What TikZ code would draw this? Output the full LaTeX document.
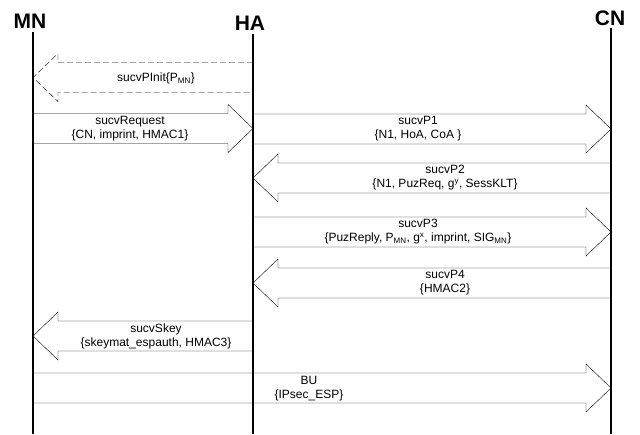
\documentclass[tikz,border=0pt]{standalone}
\usepackage{fontspec}
\setmainfont{Liberation Sans}
\usetikzlibrary{calc}

\begin{document}
\begin{tikzpicture}[
  x=1pt, y=-1pt,
  actor/.style={font=\fontsize{21}{24}\selectfont\bfseries, inner sep=0pt},
  lifeline/.style={line width=2.4pt},
  lbl/.style={align=center, inner sep=0pt, font=\fontsize{12}{14}\selectfont},
  msg/.style={line width=0.7pt, to path={
    let \p1=(\tikztostart), \p2=(\tikztotarget) in
    (\x1,\y1+15pt) -- (\x2#1,\y1+15pt) -- (\x2#1,\y1+24pt) -- (\x2,\y1)
    -- (\x2#1,\y1-24pt) -- (\x2#1,\y1-15pt) -- (\x1,\y1-15pt)}},
  initmsg/.style={dash pattern=on 6pt off 3pt}
]
\useasboundingbox (0,0) rectangle (640,434);

% Actors
\node[actor] (mn) at (30,21) {MN};
\node[actor] (ha) at (250,23) {HA};
\node[actor] (cn) at (610,18) {CN};

% Lifelines
\coordinate (mnl) at (33,32);
\coordinate (hal) at (253,34);
\coordinate (cnl) at (611,28);
\draw[lifeline] (mnl) -- (mnl |- 0,434);
\draw[lifeline] (hal) -- (hal |- 0,434);
\draw[lifeline] (cnl) -- (cnl |- 0,434);

% Messages
\draw[initmsg] (hal |- 0,77.5) to[msg=+25pt] (mnl |- 0,77.5);
\draw (mnl |- 0,128.5) to[msg=-25pt] (hal |- 0,128.5);
\draw (hal |- 0,129) to[msg=-25pt] (cnl |- 0,129);
\draw (cnl |- 0,178) to[msg=+25pt] (hal |- 0,178);
\draw (hal |- 0,232) to[msg=-25pt] (cnl |- 0,232);
\draw (cnl |- 0,283) to[msg=+25pt] (hal |- 0,283);
\draw (hal |- 0,336) to[msg=+25pt] (mnl |- 0,336);
\draw (mnl |- 0,388) to[msg=-25pt] (cnl |- 0,388);

% Message labels
\node[lbl] (pinit) at (156,78.5) {sucvPInit\{P\textsubscript{MN}\}};
\node[lbl] (req) at (130,128.5) {sucvRequest\\\{CN, imprint, HMAC1\}};
\node[lbl] (p1) at (418,129) {sucvP1\\\{N1, HoA, CoA \}};
\node[lbl] (p2) at (445,178) {sucvP2\\\{N1, PuzReq, g\textsuperscript{y}, SessKLT\}};
\node[lbl] (p3) at (418,232) {sucvP3\\\{PuzReply, P\textsubscript{MN}, g\textsuperscript{x}, imprint, SIG\textsubscript{MN}\}};
\node[lbl] (p4) at (445,283) {sucvP4\\\{HMAC2\}};
\node[lbl] (skey) at (156,336) {sucvSkey\\\{skeymat\_espauth, HMAC3\}};
\node[lbl] (bu) at (309,389) {BU\\\{IPsec\_ESP\}};

\end{tikzpicture}
\end{document}
